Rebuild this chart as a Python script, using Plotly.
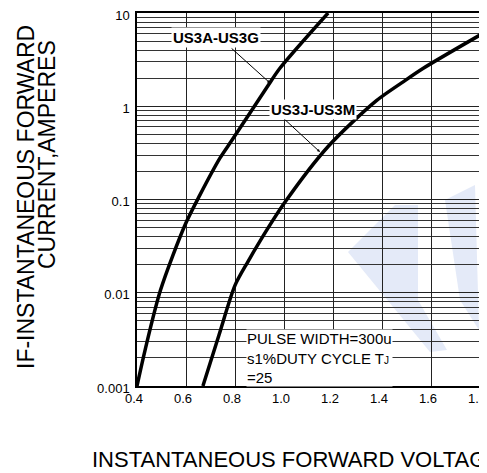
import plotly.graph_objects as go

# ---- data ----
v_us3a = [0.400, 0.433, 0.496, 0.596, 0.657, 0.739, 0.788, 0.931, 0.984, 1.180]
i_us3a = [0.001, 0.00243, 0.0107, 0.0533, 0.112, 0.279, 0.434, 1.61, 2.57, 10.0]

v_us3j = [0.669, 0.735, 0.800, 0.853, 0.902, 1.000, 1.180, 1.376, 1.480, 1.567, 1.800]
i_us3j = [0.001, 0.00355, 0.0120, 0.0216, 0.0358, 0.0904, 0.370, 1.14, 1.78, 2.54, 5.8]

x_ticks = [0.4, 0.6, 0.8, 1.0, 1.2, 1.4, 1.6, 1.8]
y_tickvals = [0.001, 0.01, 0.1, 1, 10]
y_ticktext = ["0.001", "0.01", "0.1", "1", "10"]

FONT = "Liberation Sans, Arial, sans-serif"

# plot area in window pixels: x 137..480, y 13..386
PL, PR, PT, PB = 137, 480, 13, 386
PW, PH = PR - PL, PB - PT


def px(x):
    return (x - PL) / PW


def py(y):
    return (PB - y) / PH


fig = go.Figure()

# faint watermark logo
wm = "#e4eaf8"
fig.add_shape(type="path", xref="paper", yref="paper", layer="below",
              path=f"M {px(348)},{py(252)} L {px(395)},{py(205)} L {px(418)},{py(205)} "
                   f"L {px(418)},{py(300)} L {px(447)},{py(350)} L {px(430)},{py(352)} Z",
              fillcolor=wm, line_width=0)
fig.add_shape(type="path", xref="paper", yref="paper", layer="below",
              path=f"M {px(445)},{py(200)} L {px(475)},{py(185)} L {px(479)},{py(330)} "
                   f"L {px(460)},{py(300)} Z",
              fillcolor=wm, line_width=0)

fig.add_trace(go.Scatter(x=v_us3a, y=i_us3a, mode="lines",
                         line=dict(color="black", width=3.5, shape="spline", smoothing=0.8),
                         showlegend=False, hoverinfo="skip"))
fig.add_trace(go.Scatter(x=v_us3j, y=i_us3j, mode="lines",
                         line=dict(color="black", width=3.5, shape="spline", smoothing=0.8),
                         showlegend=False, hoverinfo="skip"))

# labels with arrows
fig.add_annotation(x=0.943, y=0.249, xref="x", yref="y", ax=0.780, ay=0.635,
                   axref="x", ayref="y", text="", showarrow=True,
                   arrowhead=2, arrowsize=0.6, arrowwidth=1, arrowcolor="black")
fig.add_annotation(x=0.722, y=0.732, xref="x", yref="y", text="<b>US3A-US3G</b>",
                   showarrow=False, bgcolor="white", borderpad=1,
                   font=dict(family=FONT, size=15, color="black"))
fig.add_annotation(x=1.147, y=-0.491, xref="x", yref="y", ax=0.992, ay=-0.115,
                   axref="x", ayref="y", text="", showarrow=True,
                   arrowhead=2, arrowsize=0.6, arrowwidth=1, arrowcolor="black")
fig.add_annotation(x=1.118, y=-0.040, xref="x", yref="y", text="<b>US3J-US3M</b>",
                   showarrow=False, bgcolor="white", borderpad=1,
                   font=dict(family=FONT, size=15, color="black"))

fig.add_annotation(x=px(246), y=py(329), xref="paper", yref="paper",
                   xanchor="left", yanchor="top", align="left",
                   text="PULSE WIDTH=300u<br>s1%DUTY CYCLE T<span style='font-size:10px'>J</span><br>=25",
                   showarrow=False, bgcolor="white", borderpad=0,
                   font=dict(family=FONT, size=15, color="black"))

# axis titles
fig.add_annotation(x=px(26), y=py(197), xref="paper", yref="paper",
                   text="IF-INSTANTANEOUS FORWARD", textangle=-90, showarrow=False,
                   xanchor="center", yanchor="middle",
                   font=dict(family=FONT, size=23, color="black"))
fig.add_annotation(x=px(47), y=py(155), xref="paper", yref="paper",
                   text="CURRENT,AMPERES", textangle=-90, showarrow=False,
                   xanchor="center", yanchor="middle",
                   font=dict(family=FONT, size=23, color="black"))
fig.add_annotation(x=px(90), y=py(460), xref="paper", yref="paper",
                   text="INSTANTANEOUS FORWARD VOLTAGE,VOLTS", showarrow=False,
                   xanchor="left", yanchor="middle",
                   font=dict(family=FONT, size=22, color="black"))

fig.update_xaxes(range=[0.4, 1.8], tickvals=x_ticks, tickformat=".1f",
                 showgrid=True, gridcolor="#222", gridwidth=1,
                 showline=True, linecolor="black", linewidth=1.5, mirror=True,
                 ticks="", zeroline=False, ticklabeloverflow="allow", automargin=False,
                 ticklabelshift=-3,
                 tickfont=dict(family=FONT, size=13, color="black"))
fig.update_yaxes(type="log", range=[-3, 1], tickvals=y_tickvals, ticktext=y_ticktext,
                 showgrid=True, gridcolor="#222", gridwidth=1,
                 minor=dict(showgrid=True, dtick="D1", gridcolor="#333", gridwidth=1),
                 showline=True, linecolor="black", linewidth=1.5, mirror=True,
                 ticks="", zeroline=False, ticklabelstandoff=3, ticklabeloverflow="allow",
                 ticklabelshift=2, automargin=False,
                 tickfont=dict(family=FONT, size=13, color="black"))

# the page body has an 8px margin, so the figure starts at window (8, 8)
OFF = 8
W, H = 487, 473
fig.update_layout(width=W, height=H,
                  margin=dict(l=PL - OFF, r=W - (PR - OFF), t=PT - OFF, b=H - (PB - OFF)),
                  plot_bgcolor="white", paper_bgcolor="white", showlegend=False)

fig.write_html("out.html")
